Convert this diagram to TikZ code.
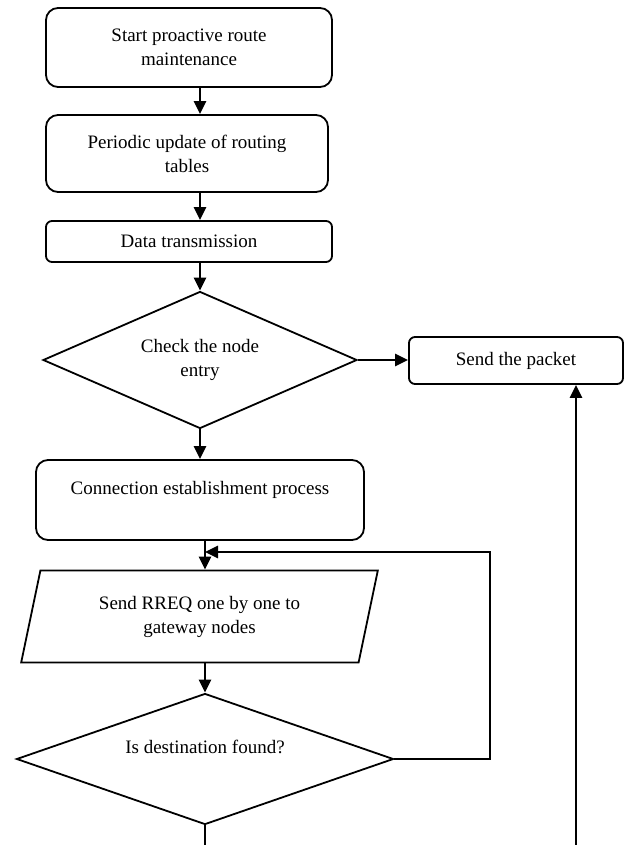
\documentclass[tikz,border=0pt]{standalone}
\usepackage{fontspec}
\setmainfont{Liberation Serif}
\usetikzlibrary{shapes.geometric}
\usetikzlibrary{arrows.meta}

\begin{document}
\begin{tikzpicture}
[x=0.5pt,y=-0.5pt,font=\fontsize{9.5}{12}\selectfont,
 procbox/.style={draw,line width=0.9pt,rounded corners=6pt,align=center,inner sep=0pt},
 decision/.style={draw,line width=0.9pt,diamond,aspect=2.5,align=center,inner sep=0pt},
 iobox/.style={draw,line width=0.9pt,trapezium,trapezium left angle=73.6,trapezium right angle=106.4,trapezium stretches=true,align=center,inner sep=0pt},
 flow/.style={line width=1.4pt,-{Triangle[length=6.5pt,width=6pt]}}]
	\useasboundingbox (0,0) rectangle (624,845);

	\node[procbox,minimum width=143pt,minimum height=39.5pt] (start) at (189,47.5) {Start proactive route\\maintenance};
	\node[procbox,minimum width=141pt,minimum height=38.5pt] (update) at (187,153.5) {Periodic update of routing\\tables};
	\node[procbox,rounded corners=3pt,minimum width=143pt,minimum height=20.5pt] (datatx) at (189,241.5) {Data transmission};
	\node[decision,minimum width=157pt,minimum height=68.5pt] (check) at (200,360) {Check the node\\entry};
	\node[procbox,rounded corners=3pt,minimum width=107pt,minimum height=23.5pt] (sendpkt) at (516,360.5) {Send the packet};
	\node[procbox,minimum width=164pt,minimum height=40pt] (connect) at (200,500) {Connection establishment process\\\mbox{}};
	\node[iobox,minimum width=178.5pt,minimum height=46pt] (rreq) at (199.5,616.5) {Send RREQ one by one to\\gateway nodes};
	\node[decision,minimum width=188.5pt,minimum height=65.5pt] (found) at (205,759) {Is destination found?\\\mbox{}};

	\coordinate (loopcorner) at (490,552);
	\coordinate (cutright) at (576,845);

	\draw[flow] (start.south -| check.north) -- (update.north -| check.north);
	\draw[flow] (update.south -| check.north) -- (datatx.north -| check.north);
	\draw[flow] (datatx.south -| check.north) -- (check.north);
	\draw[flow] (check.east) -- (check.east -| sendpkt.west);
	\draw[flow] (check.south) -- (connect.north);
	\draw[flow] (connect.south -| found.north) -- (rreq.north -| found.north);
	\draw[flow] (rreq.south -| found.north) -- (found.north);

	% back to the RREQ step
	\draw[flow] (found.east) -| (loopcorner) -- (loopcorner -| found.north);
	\draw[line width=1.4pt] (found.south) -- (found.south |- cutright);
	\draw[flow] (cutright) -- (cutright |- sendpkt.south);

\end{tikzpicture}
\end{document}
